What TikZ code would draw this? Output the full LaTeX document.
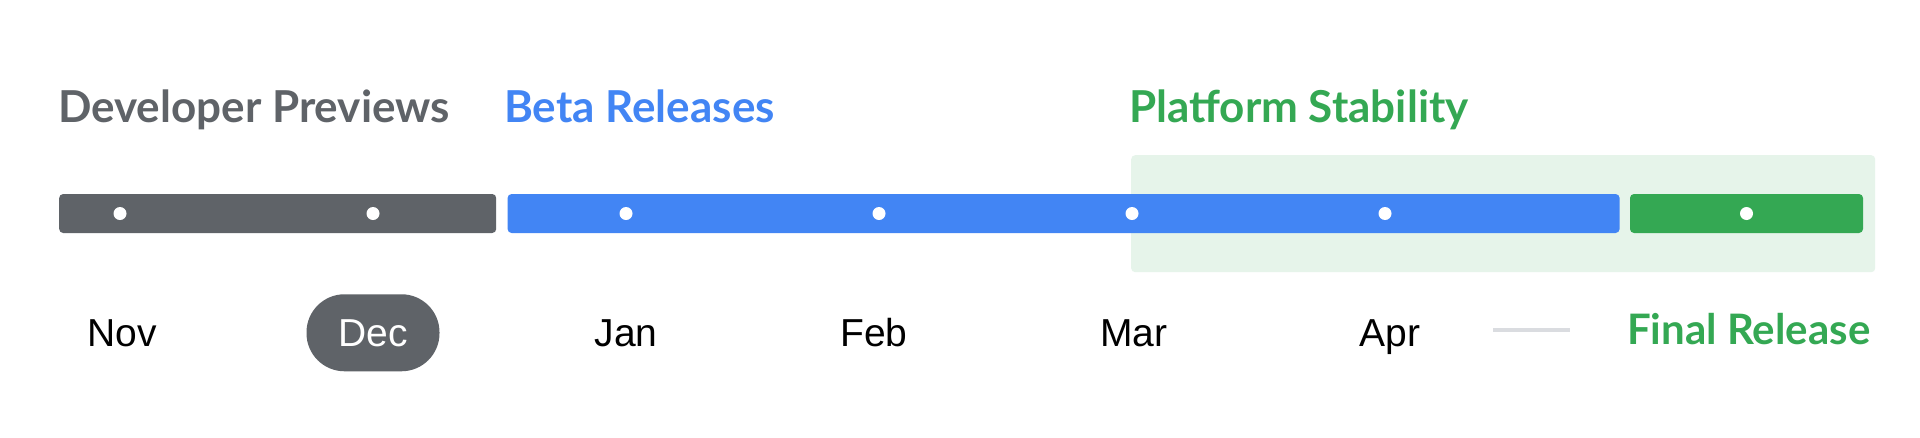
\documentclass[tikz,border=0pt]{standalone}
\usepackage{fontspec}
\setmainfont{Liberation Sans}
\newfontfamily\headfont{Lato}
\usetikzlibrary{positioning}
\definecolor{devgray}{HTML}{5F6368}
\definecolor{betablue}{HTML}{4285F4}
\definecolor{stablegreen}{HTML}{34A853}
\definecolor{stablebg}{HTML}{E6F4EA}
\definecolor{linegray}{HTML}{DADCE0}

\begin{document}
\begin{tikzpicture}[x=1pt,y=-1pt,
    bar/.style={rectangle,rounded corners=4pt,minimum height=39pt,inner sep=0pt},
    dot/.style={circle,fill=white,minimum size=13pt,inner sep=0pt},
    phase/.style={anchor=base west,inner sep=0pt,font=\headfont\bfseries\fontsize{44}{48}\selectfont},
    month/.style={anchor=base,inner sep=0pt,font=\fontsize{39}{44}\selectfont}]
  \useasboundingbox[fill=white] (0,0) rectangle (1920,437);
  \node[fill=stablebg,rounded corners=4pt,minimum width=744pt,minimum height=117pt,
    anchor=north west,inner sep=0pt] (stable) at (1131,155) {};
  \node[bar,anchor=west,fill=devgray,minimum width=437pt] (dev) at (59,213.5) {};
  \node[bar,fill=betablue,minimum width=1112pt,right=11pt of dev] (beta) {};
  \node[bar,fill=stablegreen,minimum width=233pt,right=10pt of beta] (final) {};
  \foreach \x [count=\i] in {120,373,626,879,1132,1385}
    \node[dot] (d\i) at (\x,213.5) {};
  \node[dot] (d7) at (final.center) {};

  \node[phase,text=devgray] (devlbl) at (58,122) {Developer Previews};
  \node[phase,text=betablue] (betalbl) at (504,122) {Beta Releases};
  \node[phase,text=stablegreen] (stablelbl) at (1129,122) {Platform Stability};

  \node[month] (nov) at (122,346) {Nov};
  \node[month,fill=devgray,text=white,minimum width=133pt,minimum height=77pt,
    rounded corners=38pt] (dec) at (373,346) {Dec};
  \node[month] (jan) at (626,346) {Jan};
  \node[month] (feb) at (874,346) {Feb};
  \node[month] (mar) at (1134,346) {Mar};
  \node[month] (apr) at (1390,346) {Apr};
  \node[phase,text=stablegreen,font=\headfont\bfseries\fontsize{42}{46}\selectfont]
    (frlbl) at (1627,344) {Final Release};
  \coordinate (ls) at (1493,330);
  \coordinate (le) at (1570,330);
  \draw[linegray,line width=4pt] (ls) -- (le);
\end{tikzpicture}
\end{document}
